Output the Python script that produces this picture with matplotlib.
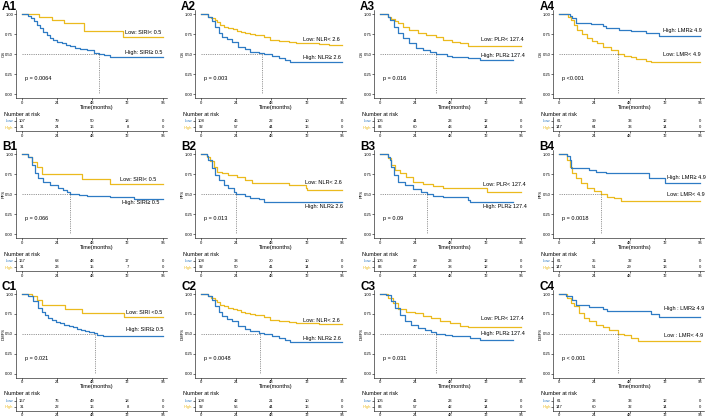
import matplotlib.pyplot as plt

plt.rcParams['font.family'] = ['Liberation Sans', 'DejaVu Sans']

# ---- data (time in months, survival probability) ----
times = [0, 24, 48, 72, 96]

# A1  OS / SIRI
a1_low_t = [0, 11.9, 20.3, 28.8, 42.5, 68.8, 96]
a1_low_s = [1, 0.97, 0.93, 0.887, 0.795, 0.72, 0.72]
a1_high_t = [0, 4.3, 6, 8, 10, 12.3, 14.5, 16.9, 19.2, 21.5, 23.8, 27.2, 30, 32.9, 36, 39.8, 44.3, 48.9, 52.3, 56, 60.3, 96]
a1_high_s = [1, 0.98, 0.95, 0.92, 0.87, 0.824, 0.78, 0.74, 0.707, 0.68, 0.657, 0.636, 0.615, 0.60, 0.58, 0.565, 0.552, 0.519, 0.502, 0.485, 0.469, 0.469]
a1_risk_low = [107, 79, 50, 18, 0]
a1_risk_high = [31, 24, 16, 8, 0]

# A2  OS / NLR
a2_low_t = [0, 5, 7, 9.6, 11, 13, 15.5, 18.7, 21.5, 24.5, 27, 30.2, 33.5, 37, 42.7, 47.3, 53, 59.9, 64.5, 80.5, 87.3, 96]
a2_low_s = [1, 0.97, 0.95, 0.93, 0.9, 0.866, 0.845, 0.824, 0.81, 0.795, 0.78, 0.76, 0.75, 0.736, 0.711, 0.678, 0.67, 0.657, 0.636, 0.628, 0.615, 0.615]
a2_high_t = [0, 5, 7.3, 9.6, 11.9, 14.2, 17.6, 21, 25.1, 30.2, 33.6, 39.3, 42.7, 48.5, 53, 57.6, 61, 96]
a2_high_s = [1, 0.97, 0.92, 0.845, 0.77, 0.72, 0.686, 0.657, 0.594, 0.56, 0.531, 0.51, 0.498, 0.477, 0.448, 0.427, 0.40, 0.40]
a2_risk_low = [108, 46, 22, 10, 0]
a2_risk_high = [92, 57, 44, 16, 0]

# A3  OS / PLR
a3_low_t = [0, 5, 7.5, 9.8, 12, 15.5, 20, 25.8, 31.5, 38.4, 43, 48.7, 54.4, 60, 96]
a3_low_s = [1, 0.96, 0.94, 0.92, 0.887, 0.845, 0.80, 0.77, 0.74, 0.72, 0.678, 0.657, 0.636, 0.60, 0.60]
a3_high_t = [0, 5, 6.4, 9.1, 12.1, 15.5, 20, 24.7, 29.3, 33.8, 38.4, 45.3, 48.7, 60, 68.1, 90.5]
a3_high_s = [1, 0.97, 0.93, 0.845, 0.76, 0.70, 0.636, 0.573, 0.552, 0.531, 0.50, 0.477, 0.469, 0.448, 0.427, 0.427]
a3_risk_low = [105, 44, 23, 12, 0]
a3_risk_high = [83, 60, 43, 14, 0]

# A4  OS / LMR
a4_low_t = [0, 6, 7.8, 10, 12.3, 15.8, 19.2, 22.6, 26, 29.5, 35.2, 39.8, 44.3, 48.9, 52.3, 59.2, 62.6, 96]
a4_low_s = [1, 0.97, 0.93, 0.866, 0.80, 0.75, 0.707, 0.67, 0.636, 0.594, 0.552, 0.498, 0.475, 0.46, 0.435, 0.414, 0.406, 0.406]
a4_high_t = [0, 7, 8.9, 11.2, 21.5, 29.5, 31.8, 40.9, 48.9, 59.2, 68.3, 96]
a4_high_s = [1, 0.98, 0.95, 0.887, 0.879, 0.854, 0.824, 0.80, 0.795, 0.77, 0.728, 0.728]
a4_risk_low = [61, 39, 33, 12, 0]
a4_risk_high = [147, 64, 33, 14, 0]

# B1  PFS / SIRI
b1_low_t = [0, 4, 6.6, 10, 13.5, 41, 60.3, 96]
b1_low_s = [1, 0.97, 0.908, 0.845, 0.75, 0.686, 0.628, 0.628]
b1_high_t = [0, 4.3, 6.6, 8.9, 11.2, 14.6, 19.2, 24.9, 28, 30.6, 32.5, 38.6, 44.3, 60.3, 76.3, 96]
b1_high_s = [1, 0.97, 0.866, 0.76, 0.70, 0.657, 0.615, 0.573, 0.55, 0.531, 0.498, 0.49, 0.477, 0.46, 0.435, 0.435]
b1_risk_low = [167, 68, 48, 17, 0]
b1_risk_high = [31, 23, 15, 7, 0]

# B2  PFS / NLR
b2_low_t = [0, 4, 6.2, 8.5, 10.7, 14.2, 18.7, 24.5, 30.2, 34.7, 41.6, 59.9, 71.3, 72.5, 96]
b2_low_s = [1, 0.97, 0.92, 0.845, 0.78, 0.76, 0.74, 0.711, 0.678, 0.644, 0.636, 0.615, 0.573, 0.552, 0.552]
b2_high_t = [0, 4, 5, 7.3, 9.6, 11.9, 15.3, 18.7, 22.2, 24, 30.2, 33.6, 39.3, 42.7, 96]
b2_high_s = [1, 0.98, 0.93, 0.824, 0.74, 0.678, 0.615, 0.573, 0.531, 0.498, 0.477, 0.448, 0.435, 0.406, 0.406]
b2_risk_low = [108, 38, 20, 10, 0]
b2_risk_high = [92, 50, 41, 14, 0]

# B3  PFS / PLR
b3_low_t = [0, 5.3, 7.5, 9.8, 13.3, 17.8, 22.4, 29.3, 36.1, 43, 72.7, 96]
b3_low_s = [1, 0.95, 0.866, 0.80, 0.76, 0.72, 0.657, 0.623, 0.60, 0.58, 0.53, 0.53]
b3_high_t = [0, 5.5, 6.4, 7.5, 9.1, 12.1, 16.7, 22.4, 28.1, 32, 36.1, 43, 60.1, 61.3, 90.5]
b3_high_s = [1, 0.97, 0.93, 0.845, 0.74, 0.657, 0.615, 0.56, 0.531, 0.498, 0.477, 0.46, 0.427, 0.406, 0.406]
b3_risk_low = [105, 39, 23, 12, 0]
b3_risk_high = [83, 47, 38, 12, 0]

# B4  PFS / LMR
b4_low_t = [0, 5.5, 7.3, 8.9, 11.2, 14.6, 19.2, 23.8, 28.3, 32.9, 37.5, 42, 96]
b4_low_s = [1, 0.93, 0.845, 0.76, 0.70, 0.636, 0.573, 0.544, 0.498, 0.469, 0.448, 0.418, 0.418]
b4_high_t = [0, 5.5, 7.3, 7.8, 20.3, 24.9, 31.8, 61.5, 72.2, 96]
b4_high_s = [1, 0.98, 0.93, 0.824, 0.80, 0.78, 0.76, 0.70, 0.644, 0.644]
b4_risk_low = [61, 35, 32, 11, 0]
b4_risk_high = [147, 51, 29, 13, 0]

# C1  DMFS / SIRI
c1_low_t = [0, 6.6, 10, 13.5, 29.5, 41, 69.5, 96]
c1_low_s = [1, 0.97, 0.92, 0.857, 0.815, 0.76, 0.707, 0.707]
c1_high_t = [0, 4.3, 7.8, 11.2, 13.5, 15.8, 18, 20.3, 23, 26, 29, 31.8, 34.5, 37.5, 40, 43.2, 46, 48.9, 51.2, 55, 60.3, 96]
c1_high_s = [1, 0.97, 0.916, 0.824, 0.78, 0.74, 0.705, 0.678, 0.655, 0.636, 0.615, 0.594, 0.58, 0.565, 0.553, 0.54, 0.525, 0.51, 0.49, 0.478, 0.469, 0.469]
c1_risk_low = [167, 76, 49, 18, 0]
c1_risk_high = [31, 22, 16, 8, 0]

# C2  DMFS / NLR
c2_low_t = [0, 5, 7, 9.6, 11, 13, 15.5, 18.7, 21.5, 24.5, 27, 30.2, 33.5, 37, 42.7, 47.3, 53, 59.9, 64.5, 80.5, 96]
c2_low_s = [1, 0.97, 0.95, 0.93, 0.9, 0.866, 0.845, 0.824, 0.81, 0.795, 0.78, 0.76, 0.75, 0.736, 0.711, 0.678, 0.665, 0.65, 0.63, 0.62, 0.62]
c2_high_t = [0, 5, 7.3, 9.6, 11.9, 14.2, 17.6, 21, 25.1, 30.2, 33.6, 39.3, 42.7, 48.5, 53, 57.6, 61, 96]
c2_high_s = [1, 0.97, 0.92, 0.845, 0.77, 0.72, 0.686, 0.657, 0.594, 0.56, 0.531, 0.51, 0.498, 0.477, 0.448, 0.427, 0.40, 0.40]
c2_risk_low = [108, 42, 21, 10, 0]
c2_risk_high = [92, 56, 44, 16, 0]

# C3  DMFS / PLR
c3_low_t = [0, 5.3, 8.7, 12.1, 17.8, 23.5, 29.3, 35, 40.7, 47.5, 54.4, 60.1, 96]
c3_low_s = [1, 0.95, 0.887, 0.81, 0.78, 0.76, 0.728, 0.70, 0.665, 0.636, 0.602, 0.58, 0.58]
c3_high_t = [0, 4.1, 7.5, 9.8, 13.3, 16.7, 21.3, 25.8, 30.4, 35, 38.4, 44.1, 48.7, 61.3, 68.1, 90.5]
c3_high_s = [1, 0.99, 0.91, 0.824, 0.74, 0.665, 0.615, 0.573, 0.552, 0.523, 0.498, 0.48, 0.469, 0.448, 0.418, 0.418]
c3_risk_low = [105, 41, 23, 12, 0]
c3_risk_high = [83, 57, 42, 14, 0]

# C4  DMFS / LMR
c4_low_t = [0, 5.5, 7.8, 10, 13.5, 16.9, 20.3, 24.9, 29.5, 34, 39.8, 44.3, 48.9, 53.5, 96]
c4_low_s = [1, 0.95, 0.887, 0.845, 0.76, 0.70, 0.657, 0.615, 0.58, 0.552, 0.50, 0.481, 0.448, 0.414, 0.414]
c4_high_t = [0, 4.3, 8.9, 11.2, 20.3, 29.5, 32.9, 62.6, 68.3, 96]
c4_high_s = [1, 0.97, 0.92, 0.866, 0.837, 0.81, 0.79, 0.753, 0.711, 0.711]
c4_risk_low = [61, 38, 33, 12, 0]
c4_risk_high = [147, 60, 32, 14, 0]

tags = ['A1', 'A2', 'A3', 'A4', 'B1', 'B2', 'B3', 'B4', 'C1', 'C2', 'C3', 'C4']
ylabels = ['OS', 'PFS', 'DMFS']
medians = [52.3, 41.6, 38.4, 39.8, 32.5, 24, 32, 28.3, 50, 40, 38.4, 39.8]
pvalues = ['p = 0.0064', 'p = 0.003', 'p = 0.016', 'p <0.001',
           'p = 0.066', 'p = 0.013', 'p = 0.09', 'p = 0.0018',
           'p = 0.021', 'p = 0.0048', 'p = 0.031', 'p < 0.001']
low_labels = ['Low: SIRI< 0.5', 'Low: NLR< 2.6', 'Low: PLR< 127.4', 'Low: LMR< 4.9',
              'Low: SIRI< 0.5', 'Low: NLR< 2.6', 'Low: PLR< 127.4', 'Low: LMR< 4.9',
              'Low: SIRI <0.5', 'Low: NLR< 2.6', 'Low: PLR< 127.4', 'Low : LMR< 4.9']
high_labels = ['High: SIRI≥ 0.5', 'High: NLR≥ 2.6', 'High: PLR≥ 127.4', 'High: LMR≥ 4.9',
               'High: SIRI≥ 0.5', 'High: NLR≥ 2.6', 'High: PLR≥ 127.4', 'High: LMR≥ 4.9',
               'High: SIRI≥ 0.5', 'High: NLR≥ 2.6', 'High: PLR≥ 127.4', 'High : LMR≥ 4.9']

curves = [
    (a1_low_t, a1_low_s, a1_high_t, a1_high_s, a1_risk_low, a1_risk_high),
    (a2_low_t, a2_low_s, a2_high_t, a2_high_s, a2_risk_low, a2_risk_high),
    (a3_low_t, a3_low_s, a3_high_t, a3_high_s, a3_risk_low, a3_risk_high),
    (a4_low_t, a4_low_s, a4_high_t, a4_high_s, a4_risk_low, a4_risk_high),
    (b1_low_t, b1_low_s, b1_high_t, b1_high_s, b1_risk_low, b1_risk_high),
    (b2_low_t, b2_low_s, b2_high_t, b2_high_s, b2_risk_low, b2_risk_high),
    (b3_low_t, b3_low_s, b3_high_t, b3_high_s, b3_risk_low, b3_risk_high),
    (b4_low_t, b4_low_s, b4_high_t, b4_high_s, b4_risk_low, b4_risk_high),
    (c1_low_t, c1_low_s, c1_high_t, c1_high_s, c1_risk_low, c1_risk_high),
    (c2_low_t, c2_low_s, c2_high_t, c2_high_s, c2_risk_low, c2_risk_high),
    (c3_low_t, c3_low_s, c3_high_t, c3_high_s, c3_risk_low, c3_risk_high),
    (c4_low_t, c4_low_s, c4_high_t, c4_high_s, c4_risk_low, c4_risk_high),
]

# label anchor points (time, survival) for the group labels
low_pos = [(70, 0.77), (69.5, 0.678), (68.6, 0.686), (70.6, 0.49),
           (67, 0.69), (71, 0.644), (70.4, 0.615), (73.6, 0.49),
           (71.3, 0.762), (69.5, 0.67), (68.6, 0.69), (71.8, 0.48)]
high_pos = [(70, 0.52), (69.5, 0.46), (68.6, 0.477), (70.6, 0.80),
            (68, 0.39), (71, 0.343), (70.4, 0.343), (73.6, 0.71),
            (71.3, 0.55), (69.5, 0.44), (68.6, 0.50), (71.8, 0.816)]

BLUE = '#2E7BC4'
YELLOW = '#EBBA1E'
W, H = 714, 417
fig = plt.figure(figsize=(W / 100, H / 100), dpi=100)


def px_axes(x, y, w, h):
    return fig.add_axes([x / W, 1 - (y + h) / H, w / W, h / H])


def style_axis(ax):
    for s in ['top', 'right']:
        ax.spines[s].set_visible(False)
    for s in ['left', 'bottom']:
        ax.spines[s].set_linewidth(0.4)
    ax.tick_params(length=1.2, width=0.4, pad=0.8, labelsize=3)


row_y = [0, 140, 279.7]
for i in range(12):
    r, c = divmod(i, 4)
    ox, oy = c * 179.1, row_y[r]
    lt, ls, ht, hs, rl, rh = curves[i]

    ax = px_axes(ox + 16, oy + 10, 151, 88)
    style_axis(ax)
    ax.step(lt, ls, where='post', color=YELLOW, lw=0.9)
    ax.step(ht, hs, where='post', color=BLUE, lw=0.9)
    m = medians[i]
    ax.plot([0, m], [0.5, 0.5], ls=(0, (2, 2)), color='#444444', lw=0.4)
    ax.plot([m, m], [0.5, 0], ls=(0, (2, 2)), color='#444444', lw=0.4)
    ax.set_xlim(-4.1, 99)
    ax.set_ylim(-0.05, 1.054)
    ax.set_xticks(times)
    ax.set_yticks([0, 0.25, 0.5, 0.75, 1.0])
    ax.set_yticklabels(['0.00', '0.25', '0.50', '0.75', '1.00'])
    ax.text(2, 0.197, pvalues[i], fontsize=4, va='center', ha='left')
    ax.text(*low_pos[i], low_labels[i], fontsize=4, va='center', ha='left')
    ax.text(*high_pos[i], high_labels[i], fontsize=4, va='center', ha='left')

    fig.text((ox + 2) / W, 1 - (oy + 7) / H, tags[i], fontsize=8.5,
             fontweight='bold', va='center', ha='left')
    fig.text((ox + 3.5) / W, 1 - (oy + 54) / H, ylabels[r], fontsize=3,
             rotation=90, va='center', ha='center')
    fig.text((ox + 97) / W, 1 - (oy + 107) / H, 'Time(months)', fontsize=4,
             va='center', ha='center')
    fig.text((ox + 4) / W, 1 - (oy + 114) / H, 'Number at risk', fontsize=4,
             va='center', ha='left')

    tb = px_axes(ox + 16, oy + 117, 151, 14)
    style_axis(tb)
    tb.set_xlim(-4.1, 99)
    tb.set_ylim(14, 0)
    tb.set_xticks(times)
    tb.set_yticks([4, 10])
    tb.set_yticklabels(['Low', 'High'])
    tb.get_yticklabels()[0].set_color(BLUE)
    tb.get_yticklabels()[1].set_color(YELLOW)
    for t, a, b in zip(times, rl, rh):
        tb.text(t, 4, str(a), fontsize=3, ha='center', va='center')
        tb.text(t, 10, str(b), fontsize=3, ha='center', va='center')

fig.savefig('out.png', dpi=100)
